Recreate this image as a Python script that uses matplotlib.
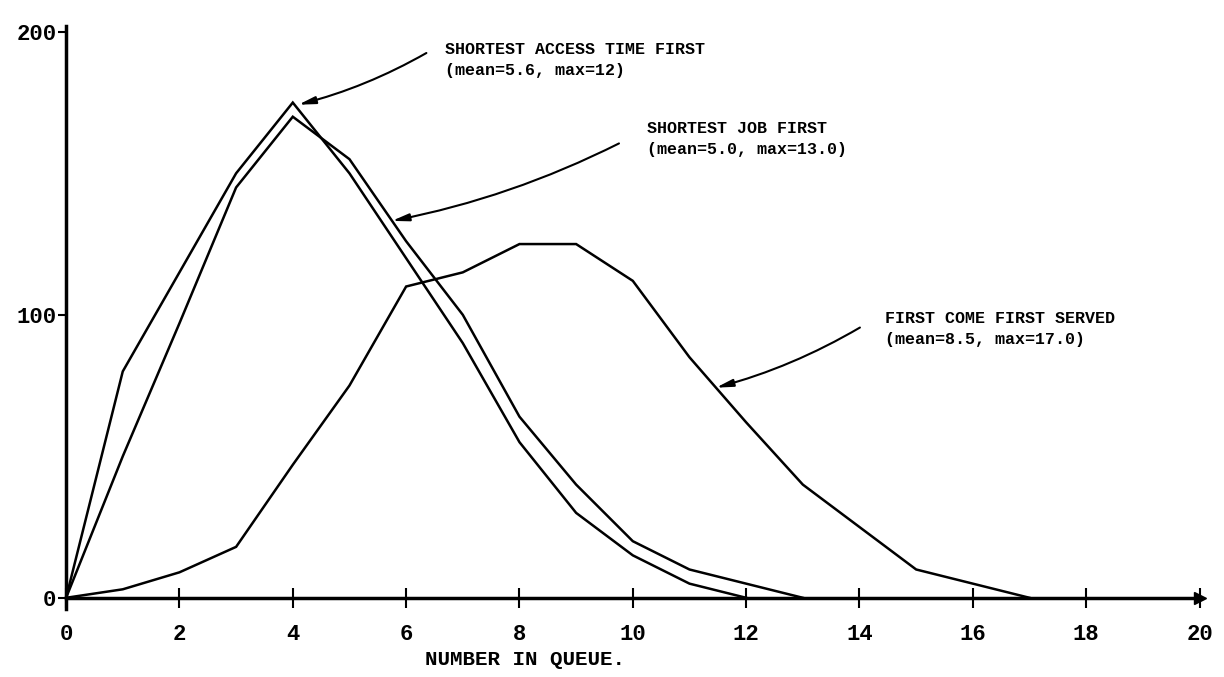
import matplotlib
matplotlib.use("Agg")
import matplotlib.pyplot as plt

# queue length distributions (number of observations vs number in queue)
x_satf = list(range(13))
satf = [0, 80, 115, 150, 175, 150, 120, 90, 55, 30, 15, 5, 0]
x_sjf = list(range(14))
sjf = [0, 50, 97, 145, 170, 155, 126, 100, 64, 40, 20, 10, 5, 0]
x_fcfs = list(range(18))
fcfs = [0, 3, 9, 18, 47, 75, 110, 115, 125, 125, 112, 85, 62, 40, 25, 10, 5, 0]

labels = ["SHORTEST ACCESS TIME FIRST\n(mean=5.6, max=12)",
          "SHORTEST JOB FIRST\n(mean=5.0, max=13.0)",
          "FIRST COME FIRST SERVED\n(mean=8.5, max=17.0)"]
xticks = list(range(0, 21, 2))
yticks = [0, 100, 200]

mono = ["Liberation Mono", "DejaVu Sans Mono"]

fig = plt.figure(figsize=(12.24, 6.77), dpi=100)
ax = fig.add_axes([0.054, 0.117, 0.926, 0.836])

for xs, ys in [(x_satf, satf), (x_sjf, sjf), (x_fcfs, fcfs)]:
    ax.plot(xs, ys, color="black", lw=1.8, solid_joinstyle="miter", clip_on=False)

ax.set_xlim(0, 20)
ax.set_ylim(0, 200)
for s in ["top", "right"]:
    ax.spines[s].set_visible(False)
for s in ["left", "bottom"]:
    ax.spines[s].set_linewidth(2.5)
ax.spines["left"].set_bounds(-4, 202)

ax.set_xticks(xticks)
ax.set_yticks(yticks)
ax.tick_params(axis="x", direction="inout", length=14, width=1.5, pad=12)
ax.tick_params(axis="y", direction="out", length=6, width=1.5, pad=1)
for lab in ax.get_xticklabels() + ax.get_yticklabels():
    lab.set_family(mono)
    lab.set_fontweight("bold")
    lab.set_fontsize(16)

# arrow head at end of x axis
ax.plot(1, 0, ">k", ms=8, transform=ax.get_yaxis_transform(), clip_on=False)

ax.set_xlabel("NUMBER IN QUEUE.", family=mono, fontweight="bold", fontsize=15)
ax.xaxis.set_label_coords(0.405, -0.093)

# curve labels with arrows
txt_pos = [(6.68, 196.5), (10.25, 168.5), (14.45, 101.5)]
tails = [(6.4, 193), (9.8, 161), (14.05, 96)]
heads = [(4.05, 174), (5.7, 133), (11.42, 74)]
for lab, tp, tl, hd in zip(labels, txt_pos, tails, heads):
    ax.text(tp[0], tp[1], lab, family=mono, fontweight="bold", fontsize=12,
            va="top", ha="left", linespacing=1.5)
    ax.annotate("", xy=hd, xytext=tl,
                arrowprops=dict(arrowstyle="-|>,head_length=1.0,head_width=0.22",
                                connectionstyle="arc3,rad=-0.07",
                                color="black", lw=1.5))

fig.savefig("out.png", dpi=100)
